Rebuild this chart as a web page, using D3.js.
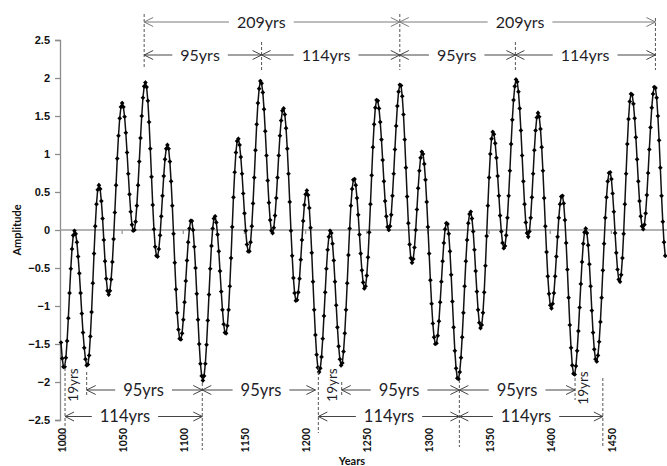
<!DOCTYPE html>
<html>
<head>
<meta charset="utf-8">
<script src="https://cdn.jsdelivr.net/npm/d3@7"></script>
<style>
body { margin: 0; background: #fff; }
svg { display: block; font-family: Lato, "Open Sans", sans-serif; }
</style>
</head>
<body>
<svg id="chart" width="667" height="466"></svg>
<script>
var startYear = 1000;

// one value per year, 1000 .. 1494
var amplitude = [
  -1.48, -1.69, -1.80, -1.80, -1.68, -1.46, -1.16, -0.83, -0.51, -0.25,
  -0.07, -0.01, -0.05, -0.16, -0.35, -0.57, -0.83, -1.10, -1.35, -1.55,
  -1.70, -1.78, -1.77, -1.65, -1.40, -1.08, -0.70, -0.31, 0.05, 0.34,
  0.53, 0.59, 0.54, 0.38, 0.15, -0.13, -0.41, -0.64, -0.80, -0.85,
  -0.80, -0.65, -0.42, -0.12, 0.23, 0.59, 0.94, 1.24, 1.47, 1.62,
  1.67, 1.62, 1.49, 1.28, 1.02, 0.74, 0.47, 0.24, 0.07, -0.01,
  0.00, 0.11, 0.32, 0.59, 0.90, 1.21, 1.50, 1.74, 1.89, 1.94,
  1.88, 1.70, 1.42, 1.07, 0.70, 0.33, 0.01, -0.22, -0.34, -0.35,
  -0.25, -0.07, 0.18, 0.45, 0.71, 0.93, 1.07, 1.12, 1.07, 0.90,
  0.64, 0.32, -0.05, -0.43, -0.78, -1.09, -1.31, -1.43, -1.44, -1.36,
  -1.18, -0.95, -0.67, -0.40, -0.16, 0.02, 0.12, 0.12, 0.00, -0.22,
  -0.50, -0.84, -1.18, -1.50, -1.76, -1.92, -1.98, -1.92, -1.76, -1.51,
  -1.19, -0.85, -0.51, -0.21, 0.02, 0.15, 0.18, 0.10, -0.06, -0.28,
  -0.54, -0.81, -1.05, -1.24, -1.35, -1.36, -1.26, -1.05, -0.74, -0.37,
  0.04, 0.43, 0.76, 1.02, 1.17, 1.20, 1.12, 0.96, 0.74, 0.48,
  0.22, -0.01, -0.19, -0.28, -0.28, -0.16, 0.05, 0.35, 0.69, 1.05,
  1.39, 1.67, 1.86, 1.96, 1.93, 1.81, 1.59, 1.30, 0.98, 0.65,
  0.36, 0.13, -0.01, -0.04, 0.03, 0.19, 0.42, 0.69, 0.98, 1.24,
  1.44, 1.57, 1.60, 1.52, 1.34, 1.07, 0.74, 0.37, -0.01, -0.34,
  -0.63, -0.83, -0.93, -0.92, -0.82, -0.64, -0.39, -0.13, 0.12, 0.33,
  0.47, 0.52, 0.46, 0.29, 0.03, -0.30, -0.68, -1.05, -1.38, -1.64,
  -1.81, -1.87, -1.82, -1.67, -1.43, -1.13, -0.82, -0.51, -0.26, -0.09,
  -0.01, -0.04, -0.18, -0.40, -0.68, -0.99, -1.28, -1.53, -1.70, -1.78,
  -1.75, -1.60, -1.36, -1.05, -0.70, -0.33, 0.02, 0.32, 0.54, 0.66,
  0.67, 0.59, 0.42, 0.20, -0.06, -0.31, -0.53, -0.69, -0.77, -0.74,
  -0.60, -0.36, -0.03, 0.34, 0.72, 1.09, 1.39, 1.61, 1.71, 1.70,
  1.60, 1.42, 1.19, 0.92, 0.64, 0.38, 0.18, 0.04, 0.00, 0.05,
  0.20, 0.45, 0.74, 1.06, 1.37, 1.63, 1.82, 1.91, 1.90, 1.76,
  1.52, 1.19, 0.82, 0.44, 0.09, -0.19, -0.37, -0.43, -0.38, -0.23,
  0.00, 0.27, 0.55, 0.78, 0.95, 1.03, 1.00, 0.87, 0.66, 0.37,
  0.04, -0.31, -0.66, -0.97, -1.23, -1.41, -1.50, -1.49, -1.39, -1.20,
  -0.95, -0.68, -0.41, -0.17, 0.01, 0.09, 0.08, -0.05, -0.28, -0.59,
  -0.94, -1.28, -1.59, -1.82, -1.95, -1.96, -1.87, -1.68, -1.41, -1.09,
  -0.74, -0.41, -0.13, 0.09, 0.21, 0.24, 0.15, -0.02, -0.26, -0.54,
  -0.81, -1.05, -1.22, -1.29, -1.25, -1.09, -0.82, -0.47, -0.08, 0.32,
  0.69, 1.00, 1.20, 1.29, 1.26, 1.14, 0.95, 0.71, 0.45, 0.19,
  -0.02, -0.17, -0.24, -0.21, -0.07, 0.16, 0.45, 0.78, 1.13, 1.45,
  1.71, 1.89, 1.98, 1.95, 1.82, 1.60, 1.31, 0.98, 0.64, 0.34,
  0.10, -0.04, -0.09, -0.02, 0.16, 0.43, 0.74, 1.05, 1.31, 1.48,
  1.54, 1.49, 1.33, 1.09, 0.78, 0.42, 0.05, -0.29, -0.61, -0.84,
  -0.99, -1.03, -0.97, -0.83, -0.61, -0.35, -0.09, 0.16, 0.34, 0.44,
  0.45, 0.35, 0.13, -0.17, -0.52, -0.89, -1.25, -1.55, -1.78, -1.89,
  -1.90, -1.79, -1.59, -1.33, -1.02, -0.71, -0.42, -0.18, -0.03, 0.02,
  -0.04, -0.20, -0.45, -0.74, -1.06, -1.35, -1.57, -1.70, -1.73, -1.65,
  -1.47, -1.21, -0.89, -0.53, -0.18, 0.16, 0.43, 0.64, 0.75, 0.76,
  0.67, 0.48, 0.24, -0.04, -0.30, -0.52, -0.65, -0.68, -0.59, -0.37,
  -0.05, 0.34, 0.74, 1.13, 1.46, 1.69, 1.79, 1.78, 1.66, 1.47,
  1.22, 0.93, 0.64, 0.38, 0.18, 0.05, 0.01, 0.07, 0.22, 0.46,
  0.75, 1.06, 1.35, 1.61, 1.79, 1.88, 1.87, 1.74, 1.50, 1.18,
  0.82, 0.45, 0.11, -0.16, -0.34
];

var xTicks = [1000, 1050, 1100, 1150, 1200, 1250, 1300, 1350, 1400, 1450];
var yTicks = [-2.5, -2, -1.5, -1, -0.5, 0, 0.5, 1, 1.5, 2, 2.5];

// annotation spans: [from year, to year, label, label centre year]
var topLongSpans = [[1068, 1277, "209yrs", 1163.8], [1277, 1486, "209yrs", 1375.3]];
var topShortSpans = [
  [1068, 1164, "95yrs", 1113.7], [1164, 1277, "114yrs", 1216.7],
  [1277, 1371.5, "95yrs", 1323.5], [1371.5, 1486, "114yrs", 1428.5]
];
var bottom95Spans = [
  [1021, 1115.5, "95yrs", 1067.5], [1115.5, 1208, "95yrs", 1163.5],
  [1229.5, 1325.7, "95yrs", 1276.4], [1325.7, 1420.3, "95yrs", 1372.9]
];
var bottom114Spans = [
  [1003.3, 1115.5, "114yrs", 1052.3], [1210.4, 1325.7, "114yrs", 1268.2],
  [1325.7, 1443, "114yrs", 1380.2]
];
var cycle19Years = [1009.6, 1221.3, 1427];
// guide lines: [year, top px, bottom px]
var topGuides = [[1068, 14, 67], [1164, 42, 70], [1277, 14, 70], [1371.5, 42, 70], [1486, 18, 70]];
var bottomGuides = [
  [1003.3, 363, 453], [1021, 372, 397], [1115.5, 383, 450], [1210.4, 367, 433],
  [1229.5, 382, 397], [1325.7, 380, 447], [1420.3, 378, 400], [1443, 378, 447]
];

var points = amplitude.map((v, i) => ({ year: startYear + i, value: v }));

var svg = d3.select("#chart");

var x = d3.scaleLinear().domain([1000, 1450]).range([61, 611.4]);
var y = d3.scaleLinear().domain([-2.5, 2.5]).range([420, 40]);
var axisX = 60;

// y axis
var yAxis = d3.axisLeft(y).tickValues(yTicks).tickSize(5).tickFormat(d3.format("~g"));
var gy = svg.append("g").attr("transform", `translate(${axisX},0)`).call(yAxis);
gy.select(".domain").attr("stroke", "#8c8c8c").attr("stroke-width", 1.3);
gy.selectAll(".tick line").attr("stroke", "#8c8c8c").attr("stroke-width", 1.3);
gy.selectAll(".tick text")
  .attr("x", -10)
  .style("font-size", "11px")
  .style("font-weight", "bold")
  .style("fill", "#111");

// zero line with category ticks
svg.append("line")
  .attr("x1", axisX).attr("x2", 667)
  .attr("y1", y(0)).attr("y2", y(0))
  .attr("stroke", "#9a9a9a").attr("stroke-width", 1.5);

svg.selectAll(".xtick")
  .data(xTicks.slice(1))
  .enter().append("line")
  .attr("x1", d => x(d)).attr("x2", d => x(d))
  .attr("y1", y(0)).attr("y2", y(0) + 4)
  .attr("stroke", "#9a9a9a").attr("stroke-width", 1.3);

svg.selectAll(".xlabel")
  .data(xTicks)
  .enter().append("text")
  .attr("transform", d => `translate(${x(d) + 1},428) rotate(-90)`)
  .attr("dy", "0.35em")
  .attr("text-anchor", "end")
  .style("font-size", "10.5px")
  .style("font-weight", "bold")
  .style("fill", "#111")
  .text(d => d);

// axis titles
svg.append("text")
  .attr("transform", "translate(21,230) rotate(-90)")
  .attr("text-anchor", "middle")
  .style("font-size", "11px")
  .style("font-weight", "bold")
  .style("fill", "#111")
  .text("Amplitude");

svg.append("text")
  .attr("x", 352).attr("y", 465)
  .attr("text-anchor", "middle")
  .style("font-size", "11px")
  .style("font-weight", "bold")
  .style("fill", "#111")
  .text("Years");

// series
var line = d3.line().x(d => x(d.year)).y(d => y(d.value));
svg.append("path")
  .datum(points)
  .attr("fill", "none")
  .attr("stroke", "#111")
  .attr("stroke-width", 1.5)
  .attr("d", line);

var diamond = d3.symbol().type(d3.symbolSquare).size(11);
svg.selectAll(".pt")
  .data(points)
  .enter().append("path")
  .attr("d", diamond)
  .attr("transform", d => `translate(${x(d.year)},${y(d.value)}) rotate(45)`)
  .attr("fill", "#000");

// annotations
var ann = svg.append("g");

function guide(g) {
  ann.append("line")
    .attr("x1", x(g[0])).attr("x2", x(g[0]))
    .attr("y1", g[1]).attr("y2", g[2])
    .attr("stroke", "#555").attr("stroke-width", 1)
    .attr("stroke-dasharray", "3,2");
}
topGuides.forEach(guide);
bottomGuides.forEach(guide);

function span(s, yy, color, size) {
  var x1 = x(s[0]), x2 = x(s[1]), cx = x(s[3]);
  var t = ann.append("text")
    .attr("x", cx).attr("y", yy).attr("dy", "0.36em")
    .attr("text-anchor", "middle")
    .style("font-size", size + "px")
    .style("fill", "#1e1e28")
    .text(s[2]);
  var w = t.node().getComputedTextLength();
  var gap = 8;
  ann.append("line").attr("x1", x1).attr("x2", cx - w / 2 - gap)
    .attr("y1", yy).attr("y2", yy).attr("stroke", color).attr("stroke-width", 1);
  ann.append("line").attr("x1", cx + w / 2 + gap).attr("x2", x2)
    .attr("y1", yy).attr("y2", yy).attr("stroke", color).attr("stroke-width", 1);
  ann.append("path")
    .attr("d", `M${x1 + 9},${yy - 4.5}L${x1},${yy}L${x1 + 9},${yy + 4.5}`)
    .attr("fill", "none").attr("stroke", color).attr("stroke-width", 1);
  ann.append("path")
    .attr("d", `M${x2 - 9},${yy - 4.5}L${x2},${yy}L${x2 - 9},${yy + 4.5}`)
    .attr("fill", "none").attr("stroke", color).attr("stroke-width", 1);
}

topLongSpans.forEach(s => span(s, 22, "#7a7a7a", 16));
topShortSpans.forEach(s => span(s, 55, "#444", 16));
bottom95Spans.forEach(s => span(s, 390, "#444", 16.5));
bottom114Spans.forEach(s => span(s, 416.5, "#444", 16.5));

ann.selectAll(".c19")
  .data(cycle19Years)
  .enter().append("text")
  .attr("transform", (d, i) => `translate(${x(d)},${i == 2 ? 388 : 385}) rotate(-90)`)
  .attr("dy", "0.36em")
  .attr("text-anchor", "middle")
  .style("font-size", "13.5px")
  .style("fill", "#1e1e28")
  .text("19yrs");
</script>
</body>
</html>
